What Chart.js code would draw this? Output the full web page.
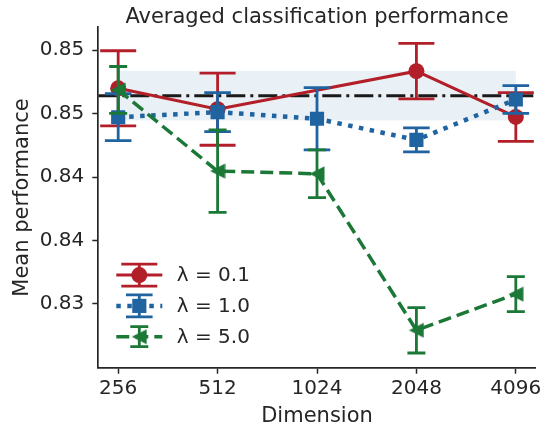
<!DOCTYPE html>
<html>
<head>
<meta charset="utf-8">
<script src="https://cdn.jsdelivr.net/npm/chart.js@4/dist/chart.umd.min.js"></script>
<style>
  html, body { margin: 0; padding: 0; background: #ffffff; }
  canvas { display: block; }
</style>
</head>
<body>
<canvas id="c" width="549" height="429"></canvas>
<script>
// ---------------- data ----------------
const dims = [256, 512, 1024, 2048, 4096];
const xTickLabels = ['256', '512', '1024', '2048', '4096'];
const yTickValues = [0.835, 0.840, 0.845, 0.850, 0.855];
const yTickLabels = ['0.83', '0.84', '0.84', '0.85', '0.85'];
const seriesNames = ['\u03bb = 0.1', '\u03bb = 1.0', '\u03bb = 5.0'];

const meanL01 = [0.8520, 0.85035, null, 0.85335, 0.84974];
const errL01  = [0.00296, 0.00284, null, 0.00219, 0.00192];
const meanL10 = [0.84972, 0.85012, 0.84960, 0.84793, 0.85112];
const errL10  = [0.00185, 0.00154, 0.00246, 0.00095, 0.00109];
const meanL50 = [0.85187, 0.84547, 0.84526, 0.83292, 0.83577];
const errL50  = [0.00185, 0.00325, 0.00188, 0.00179, 0.00138];

const baselineMean = 0.85142;
const baselineStd = 0.00195;

const xMin = Math.pow(2, 7.8), xMax = Math.pow(2, 12.2);
const yMin = 0.82997, yMax = 0.85681;

// ---------------- styles ----------------
const RED = '#b21f28', BLUE = '#1f63a0', GREEN = '#1b7837', INK = '#262626';
const FONT = '"DejaVu Sans", "Liberation Sans", sans-serif';

function makeTriangle(color) {
  const c = document.createElement('canvas');
  c.width = 16; c.height = 16;
  const g = c.getContext('2d');
  g.fillStyle = color;
  g.beginPath();
  g.moveTo(0.5, 8); g.lineTo(15.5, 0.5); g.lineTo(15.5, 15.5); g.closePath();
  g.fill();
  return c;
}
const triLeft = makeTriangle(GREEN);

const pts = (means) => dims.map((d, i) => ({ x: d, y: means[i] }));

const datasets = [
  { label: seriesNames[0], data: pts(meanL01), errors: errL01, capHalf: 18,
    borderColor: RED, backgroundColor: RED, borderWidth: 3, pointStyle: 'circle',
    pointRadius: 8, pointBackgroundColor: RED, pointBorderWidth: 0, spanGaps: true, order: 3 },
  { label: seriesNames[1], data: pts(meanL10), errors: errL10, capHalf: 13.3,
    borderColor: BLUE, backgroundColor: BLUE, borderWidth: 4.5, borderDash: [4.5, 6.5],
    pointStyle: 'rect', pointRadius: 10, pointBackgroundColor: BLUE, pointBorderWidth: 0, order: 2 },
  { label: seriesNames[2], data: pts(meanL50), errors: errL50, capHalf: 9,
    borderColor: GREEN, backgroundColor: GREEN, borderWidth: 3.5, borderDash: [13, 6],
    pointStyle: triLeft, pointRadius: 8, pointBackgroundColor: GREEN, pointBorderWidth: 0, order: 1 }
];

// ---------------- plugins ----------------
const baselinePlugin = {
  id: 'baseline',
  beforeDatasetsDraw(chart) {
    const { ctx, chartArea: a, scales: { x, y } } = chart;
    ctx.save();
    ctx.beginPath(); ctx.rect(a.left, a.top, a.right - a.left, a.bottom - a.top); ctx.clip();
    const x0 = x.getPixelForValue(dims[0]), x1 = x.getPixelForValue(dims[dims.length - 1]);
    const yt = y.getPixelForValue(baselineMean + baselineStd), yb = y.getPixelForValue(baselineMean - baselineStd);
    ctx.fillStyle = 'rgba(70,130,180,0.12)';
    ctx.fillRect(x0, yt, x1 - x0, yb - yt);
    const ym = y.getPixelForValue(baselineMean);
    ctx.strokeStyle = '#1a1a1a'; ctx.lineWidth = 3; ctx.setLineDash([19, 5, 3, 5]);
    ctx.beginPath(); ctx.moveTo(a.left, ym); ctx.lineTo(a.right, ym); ctx.stroke();
    ctx.restore();
  }
};

const errorBarPlugin = {
  id: 'errorbars',
  beforeDatasetDraw(chart, args) {
    const ds = chart.data.datasets[args.index];
    const meta = args.meta;
    const { ctx, scales: { y } } = chart;
    ctx.save();
    ctx.strokeStyle = ds.borderColor; ctx.lineWidth = 2.8; ctx.setLineDash([]);
    ds.data.forEach((p, i) => {
      const e = ds.errors[i];
      if (p.y === null || e === null) return;
      const px = meta.data[i].x;
      const yt = y.getPixelForValue(p.y + e), yb = y.getPixelForValue(p.y - e);
      ctx.beginPath();
      ctx.moveTo(px, yt); ctx.lineTo(px, yb);
      ctx.moveTo(px - ds.capHalf, yt); ctx.lineTo(px + ds.capHalf, yt);
      ctx.moveTo(px - ds.capHalf, yb); ctx.lineTo(px + ds.capHalf, yb);
      ctx.stroke();
    });
    ctx.restore();
  }
};

const legendPlugin = {
  id: 'errLegend',
  afterDraw(chart) {
    const { ctx, chartArea: a } = chart;
    const xl = a.left + 18, xr = a.left + 64, xm = (xl + xr) / 2, xt = a.left + 78.5;
    const rowGap = 30.8;
    const errHalf = [11, 11, 10];
    chart.data.datasets.forEach((ds, k) => {
      const yc = a.bottom - 31 - (2 - k) * rowGap;
      ctx.save();
      ctx.strokeStyle = ds.borderColor; ctx.fillStyle = ds.borderColor;
      ctx.lineWidth = ds.borderWidth; ctx.setLineDash(ds.borderDash || []);
      ctx.beginPath(); ctx.moveTo(xl, yc); ctx.lineTo(xr, yc); ctx.stroke();
      ctx.setLineDash([]); ctx.lineWidth = 2.8;
      ctx.beginPath();
      ctx.moveTo(xm, yc - errHalf[k]); ctx.lineTo(xm, yc + errHalf[k]);
      ctx.moveTo(xm - ds.capHalf, yc - errHalf[k]); ctx.lineTo(xm + ds.capHalf, yc - errHalf[k]);
      ctx.moveTo(xm - ds.capHalf, yc + errHalf[k]); ctx.lineTo(xm + ds.capHalf, yc + errHalf[k]);
      ctx.stroke();
      if (ds.pointStyle === 'circle') {
        ctx.beginPath(); ctx.arc(xm, yc, ds.pointRadius, 0, Math.PI * 2); ctx.fill();
      } else if (ds.pointStyle === 'rect') {
        const s = ds.pointRadius * Math.SQRT1_2; ctx.fillRect(xm - s, yc - s, 2 * s, 2 * s);
      } else {
        ctx.drawImage(ds.pointStyle, xm - ds.pointStyle.width / 2, yc - ds.pointStyle.height / 2);
      }
      ctx.fillStyle = INK; ctx.font = '20px ' + FONT;
      ctx.textAlign = 'left'; ctx.textBaseline = 'middle';
      ctx.fillText(ds.label, xt, yc + 1);
      ctx.restore();
    });
  }
};

const titlePlugin = {
  id: 'topTitle',
  afterDraw(chart) {
    const { ctx, chartArea: a } = chart;
    ctx.save();
    ctx.fillStyle = INK; ctx.font = '21px ' + FONT;
    ctx.textAlign = 'center'; ctx.textBaseline = 'alphabetic';
    ctx.fillText('Averaged classification performance', (a.left + a.right) / 2, 23.3);
    ctx.restore();
  }
};

// ---------------- chart ----------------
Chart.defaults.font.family = FONT;
Chart.defaults.color = INK;

new Chart(document.getElementById('c'), {
  type: 'line',
  data: { datasets },
  options: {
    responsive: false,
    animation: false,
    devicePixelRatio: 1,
    layout: { padding: { top: 27.3, right: 13.3, left: 0, bottom: 0 } },
    plugins: { legend: { display: false }, tooltip: { enabled: false }, title: { display: false } },
    elements: { line: { tension: 0 } },
    scales: {
      x: {
        type: 'logarithmic', min: xMin, max: xMax, bounds: 'data',
        afterBuildTicks: (s) => { s.ticks = dims.map(v => ({ value: v })); },
        afterFit: (s) => { s.height = 61.3; },
        ticks: { callback: (v, i) => xTickLabels[i], font: { size: 20 }, color: INK, padding: 3,
                 maxRotation: 0, minRotation: 0, autoSkip: false },
        grid: { drawOnChartArea: false, drawTicks: true, tickLength: 6, tickWidth: 1.5, tickColor: INK },
        border: { display: true, color: INK, width: 1.7 },
        title: { display: true, text: 'Dimension', font: { size: 21 }, color: INK, padding: { top: 0, bottom: 0 } }
      },
      y: {
        type: 'linear', min: yMin, max: yMax,
        afterBuildTicks: (s) => { s.ticks = yTickValues.map(v => ({ value: v })); },
        afterFit: (s) => { s.width = 98.3; },
        ticks: { callback: (v, i) => yTickLabels[i], font: { size: 20 }, color: INK, padding: 8 },
        grid: { drawOnChartArea: false, drawTicks: true, tickLength: 6, tickWidth: 1.5, tickColor: INK },
        border: { display: true, color: INK, width: 1.7 },
        title: { display: true, text: 'Mean performance', font: { size: 21 }, color: INK, padding: { top: 10, bottom: 0 } }
      }
    }
  },
  plugins: [baselinePlugin, errorBarPlugin, legendPlugin, titlePlugin]
});
</script>
</body>
</html>
